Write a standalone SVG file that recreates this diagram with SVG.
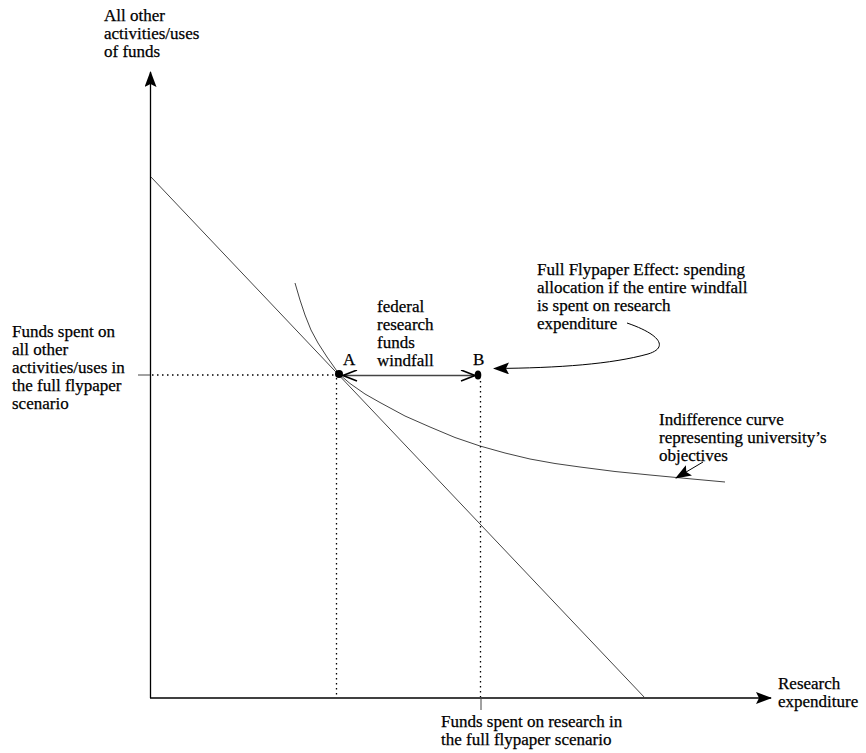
<svg xmlns="http://www.w3.org/2000/svg" width="866" height="753" viewBox="0 0 866 753">
<defs>
<style>
text{font-family:"Liberation Serif","Times New Roman",serif;font-size:17px;fill:#000;stroke:#000;stroke-width:0.25}
.ax{stroke:#000;stroke-width:1.3;fill:none}
.thin{stroke:#444;stroke-width:1;fill:none}
.dot{stroke:#000;stroke-width:1.3;stroke-dasharray:1.5 3.5;fill:none}
</style>
<marker id="fill" viewBox="0 0 16 12" refX="15" refY="6" markerWidth="16" markerHeight="12" markerUnits="userSpaceOnUse" orient="auto">
<path d="M0,0 L16,6 L0,12 L3,6 Z" fill="#000"/>
</marker>
<marker id="open" viewBox="0 0 16 12" refX="15" refY="6" markerWidth="16" markerHeight="12" markerUnits="userSpaceOnUse" orient="auto-start-reverse">
<path d="M1,0.5 L15,6 L1,11.5" fill="none" stroke="#000" stroke-width="1.6"/>
</marker>
</defs>
<rect width="866" height="753" fill="#fff"/>
<g id="axes">
<line class="ax" x1="150.5" y1="698" x2="150.5" y2="72" marker-end="url(#fill)"/>
<line class="ax" x1="150" y1="698" x2="771" y2="698" marker-end="url(#fill)"/>
<line class="thin" x1="481" y1="698" x2="481" y2="710"/>
<line class="thin" x1="138" y1="375" x2="150" y2="375"/>
</g>
<g id="budget-line">
<line class="thin" x1="151" y1="177" x2="645" y2="698"/>
</g>
<g id="indifference-curve">
<path class="thin" stroke="#222" d="M295,283 L300,300 L305,315 L311,330 L318,343 L327,357 L339,374 L350,383.5 L365,394 L380,402.5 L405,416 L430,427 L455,437.5 L480,446 L505,453 L530,459 L555,463.5 L580,467 L615,471.5 L650,475 L690,478.8 L725,482"/>
</g>
<g id="guides">
<line class="dot" x1="152" y1="375" x2="336" y2="375"/>
<line class="dot" x1="336.5" y1="378" x2="336.5" y2="697"/>
<line class="dot" x1="480.5" y1="381" x2="480.5" y2="697"/>
</g>
<g id="point-A">
<circle cx="339" cy="374" r="4"/>
<text x="343" y="365">A</text>
</g>
<g id="point-B">
<ellipse cx="478" cy="375" rx="3.3" ry="4.5"/>
<text x="473" y="365">B</text>
</g>
<g id="connectors">
<line x1="343" y1="375.5" x2="475" y2="375.5" stroke="#444" stroke-width="1.6" marker-start="url(#open)" marker-end="url(#open)"/>
<path d="M627,323 C662,335 668,348 648,354 C612,364 560,368 494,368.5" fill="none" stroke="#000" stroke-width="1" marker-end="url(#fill)"/>
<line x1="703" y1="462" x2="676" y2="478" stroke="#000" stroke-width="1" marker-end="url(#fill)"/>
</g>
<g id="labels">
<text x="104" y="21">All other</text>
<text x="104" y="39">activities/uses</text>
<text x="104" y="57">of funds</text>
<text x="12" y="337">Funds spent on</text>
<text x="12" y="355">all other</text>
<text x="12" y="373">activities/uses in</text>
<text x="12" y="391">the full flypaper</text>
<text x="12" y="409">scenario</text>
<text x="377" y="312">federal</text>
<text x="377" y="330">research</text>
<text x="377" y="348">funds</text>
<text x="377" y="366">windfall</text>
<text x="537" y="275">Full Flypaper Effect: spending</text>
<text x="537" y="293">allocation if the entire windfall</text>
<text x="537" y="311">is spent on research</text>
<text x="537" y="329">expenditure</text>
<text x="659" y="425">Indifference curve</text>
<text x="659" y="443">representing university’s</text>
<text x="659" y="461">objectives</text>
<text x="441" y="727">Funds spent on research in</text>
<text x="441" y="745">the full flypaper scenario</text>
<text x="778" y="689">Research</text>
<text x="778" y="707">expenditure</text>
</g>
</svg>
